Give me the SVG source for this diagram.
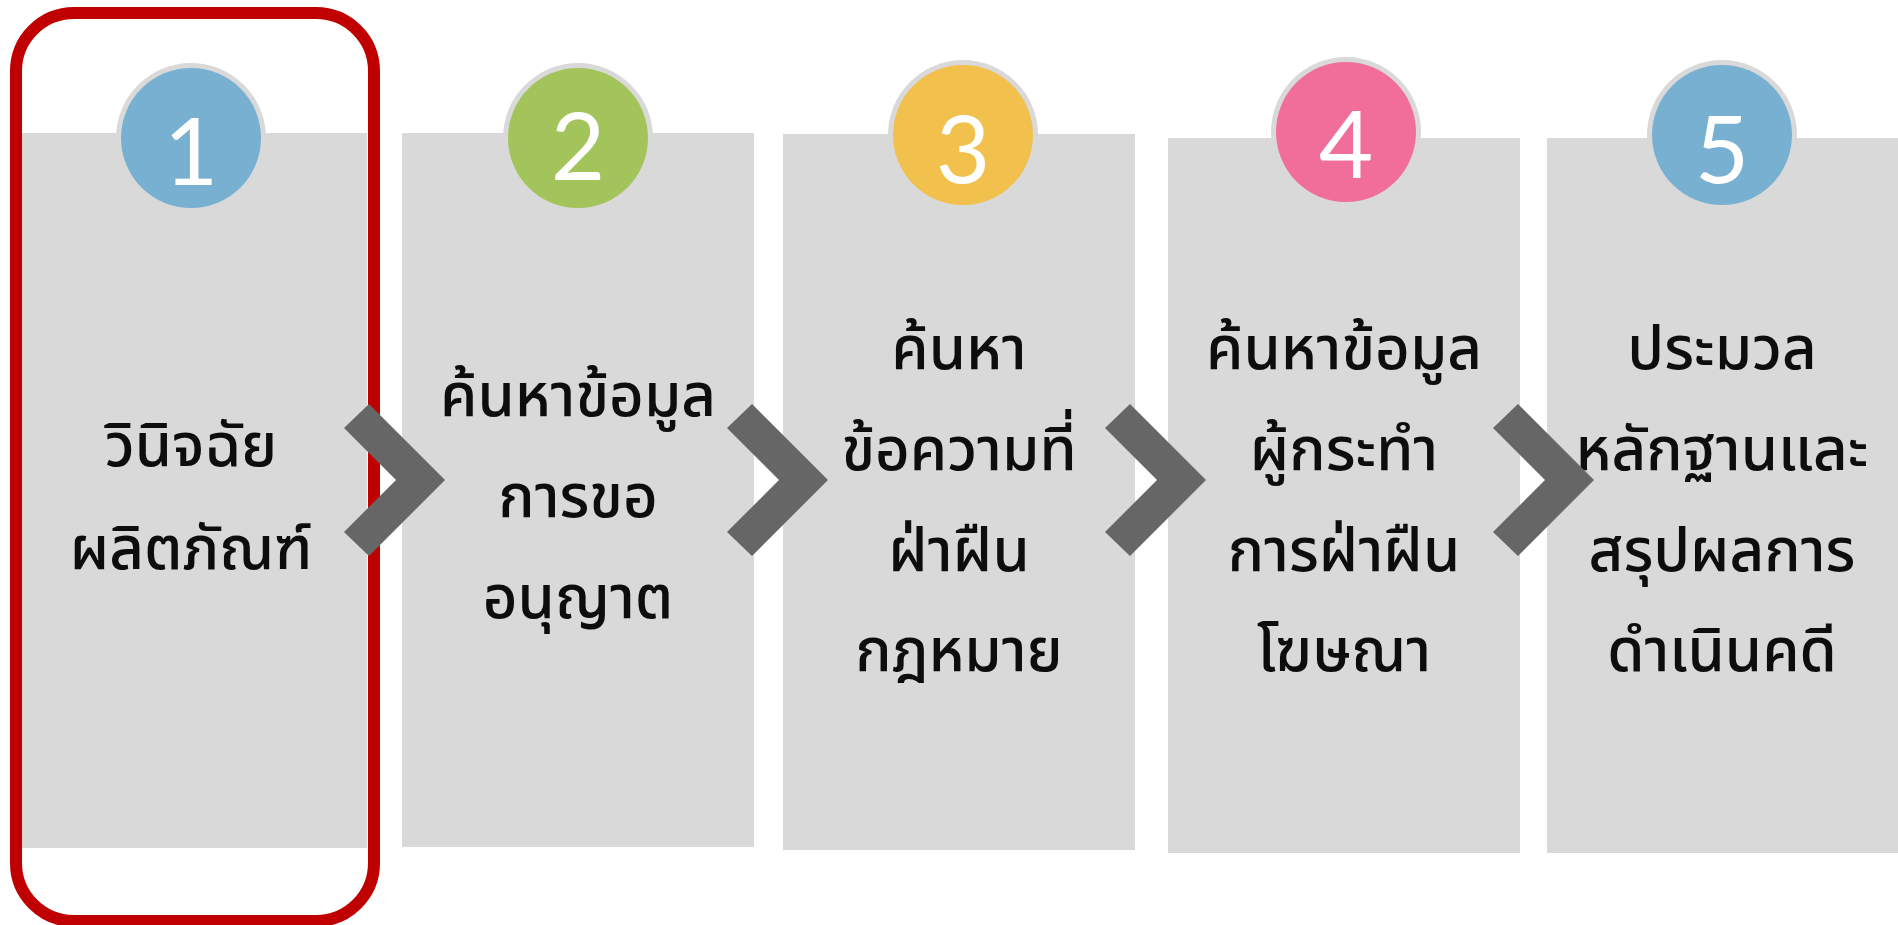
<svg xmlns="http://www.w3.org/2000/svg" width="1898" height="925" viewBox="0 0 1898 925">
<style>
.box{fill:#D9D9D9}
.ring{fill:#D9D9D9}
.num{font-family:Lato,"Open Sans",sans-serif;font-size:94px;fill:#FFFFFF;text-anchor:middle}
.lbl{font-family:"Noto Sans Thai","Noto Sans","Noto Sans CJK SC",sans-serif;font-size:60px;font-weight:500;fill:#0D0D0D;text-anchor:middle}
.chev{fill:#666666}
</style>
<rect width="1898" height="925" fill="#FFFFFF"/>
<g id="node1">
<rect class="box" x="15" y="133" width="352" height="715"/>
<circle class="ring" cx="191" cy="138" r="75"/>
<circle cx="191" cy="138" r="70" fill="#78B0D1"/>
<text class="num" x="191" y="185">1</text>
<text class="lbl" x="191" y="466">วินิจฉัย</text>
<text class="lbl" x="191" y="569">ผลิตภัณฑ์</text>
</g>
<g id="node2">
<rect class="box" x="402" y="133" width="352" height="714"/>
<circle class="ring" cx="578" cy="138" r="75"/>
<circle cx="578" cy="138" r="70" fill="#A2C45A"/>
<text class="num" x="578" y="180">2</text>
<text class="lbl" x="578" y="416">ค้นหาข้อมูล</text>
<text class="lbl" x="578" y="517">การขอ</text>
<text class="lbl" x="578" y="618">อนุญาต</text>
</g>
<g id="node3">
<rect class="box" x="783" y="134" width="352" height="716"/>
<circle class="ring" cx="963" cy="135" r="75"/>
<circle cx="963" cy="135" r="70" fill="#F2C04C"/>
<text class="num" x="963" y="183">3</text>
<text class="lbl" x="959" y="369">ค้นหา</text>
<text class="lbl" x="959" y="470">ข้อความที่</text>
<text class="lbl" x="959" y="571">ฝ่าฝืน</text>
<text class="lbl" x="959" y="671">กฎหมาย</text>
</g>
<g id="node4">
<rect class="box" x="1168" y="138" width="352" height="715"/>
<circle class="ring" cx="1346" cy="132" r="75"/>
<circle cx="1346" cy="132" r="70" fill="#F26E9A"/>
<text class="num" x="1346" y="178">4</text>
<text class="lbl" x="1344" y="369">ค้นหาข้อมูล</text>
<text class="lbl" x="1344" y="470">ผู้กระทำ</text>
<text class="lbl" x="1344" y="571">การฝ่าฝืน</text>
<text class="lbl" x="1344" y="671">โฆษณา</text>
</g>
<g id="node5">
<rect class="box" x="1547" y="138" width="352" height="715"/>
<circle class="ring" cx="1722" cy="135" r="75"/>
<circle cx="1722" cy="135" r="70" fill="#78B0D1"/>
<text class="num" x="1722" y="183">5</text>
<text class="lbl" x="1722" y="369">ประมวล</text>
<text class="lbl" x="1722" y="470">หลักฐานและ</text>
<text class="lbl" x="1722" y="571">สรุปผลการ</text>
<text class="lbl" x="1722" y="671">ดำเนินคดี</text>
</g>
<g id="highlight">
<rect x="16" y="13" width="358" height="908" rx="58" ry="58" fill="none" stroke="#C00000" stroke-width="12"/>
</g>
<g id="connectors">
<polygon class="chev" points="344,428 369,404 445,480 369,556 344,532 396,480"/>
<polygon class="chev" points="727,428 752,404 828,480 752,556 727,532 779,480"/>
<polygon class="chev" points="1105,428 1130,404 1206,480 1130,556 1105,532 1157,480"/>
<polygon class="chev" points="1493,428 1518,404 1594,480 1518,556 1493,532 1545,480"/>
</g>
</svg>
